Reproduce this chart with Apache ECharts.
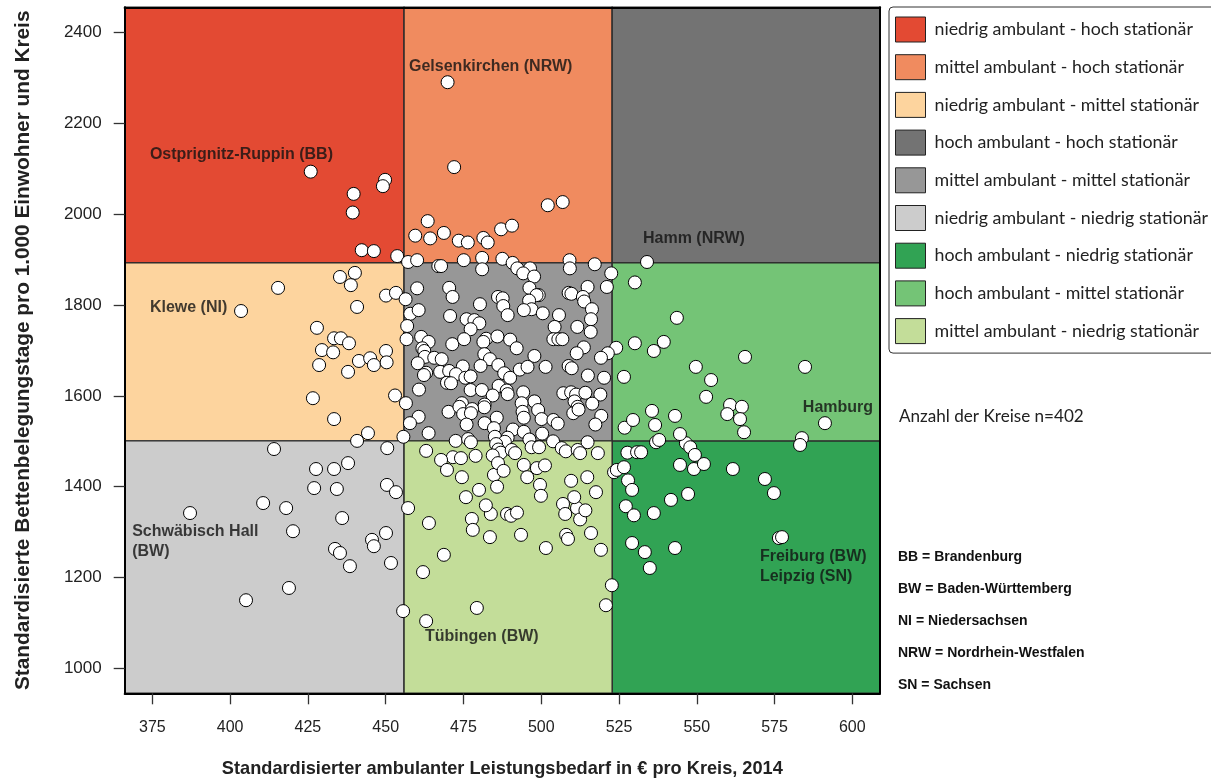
<!DOCTYPE html>
<html><head><meta charset="utf-8">
<script src="https://cdn.jsdelivr.net/npm/echarts@6/dist/echarts.min.js"></script>
<style>html,body{margin:0;padding:0;background:#fff}#c{width:1211px;height:780px}</style>
</head><body><div id="c"></div>
<script>
const xTicks = [375,400,425,450,475,500,525,550,575,600];
const yTicks = [1000,1200,1400,1600,1800,2000,2200,2400];
const xBreaks = [366.1, 455.9, 522.8, 608.9];
const yBreaks = [945, 1501, 1893, 2456];
const regionNames = [
  'niedrig ambulant - hoch stationär','mittel ambulant - hoch stationär','niedrig ambulant - mittel stationär',
  'hoch ambulant - hoch stationär','mittel ambulant - mittel stationär','niedrig ambulant - niedrig stationär',
  'hoch ambulant - niedrig stationär','hoch ambulant - mittel stationär','mittel ambulant - niedrig stationär'];
const regionCol = [0,1,0,2,1,0,2,2,1];
const regionRow = [2,2,1,2,1,0,0,1,0];
const regionColors = ['#E34A33','#F08B5F','#FDD49E','#737373','#979797','#CCCCCC','#31A354','#74C476','#C3DD99'];
const annotations = [
  [457.5,2325,'Gelsenkirchen (NRW)'],[374.2,2132,'Ostprignitz-Ruppin (BB)'],[532.7,1946,'Hamm (NRW)'],
  [374.2,1794,'Klewe (NI)'],[584.1,1574,'Hamburg'],[368.5,1279,'Schwäbisch Hall\n(BW)'],
  [570.3,1224,'Freiburg (BW)\nLeipzig (SN)'],[462.6,1071,'Tübingen (BW)']];
const kreise = [
[425.9,2094],[449.8,2076],[449.1,2062],[439.7,2045],[439.4,2004],[442.3,1921],[446.2,1919],[453.7,1908],
[469.9,2291],[472,2104],[502.1,2020],[506.9,2027],[463.5,1985],[459.5,1953],[464.3,1947],[468.7,1959],[473.5,1942],[476.4,1938],[481.4,1948],[482.8,1938],[487.1,1967],[490.6,1975],
[457.2,1895],[460.1,1899],[475.1,1899],[481,1904],[487.5,1902],[490.8,1893],[509.1,1899],[517.2,1890],[522.5,1870],
[466.9,1886],[467.8,1886],[481,1879],[492.3,1881],[496.4,1881],[494.2,1870],[497.7,1863],[509.2,1881],
[450.1,1821],[453.3,1827],[456.4,1813],[460.1,1837],[470.4,1838],[471.5,1818],[480.3,1802],[496.2,1838],[499.2,1822],[498.5,1822],[496.1,1810],[496.9,1791],[494.4,1789],[500.5,1782],[486.1,1818],[487.6,1815],[487.8,1798],[489.2,1778],[508.8,1827],[509.7,1825],[514.9,1840],[521.1,1840],[513.4,1818],[513.8,1808],[516.3,1791],[516,1769],[515.9,1741],
[457.9,1781],[460.6,1789],[470.7,1776],[476,1769],[478.5,1767],[480.1,1760],[477.3,1747],[505.7,1778],[504.3,1752],[511.6,1752],[456.9,1754],[456.7,1725],[461.4,1730],[463.8,1719],[471.4,1714],[475.2,1725],[482.3,1726],[481.4,1719],[485.9,1731],[490,1724],[492.1,1705],[503.9,1725],[505.5,1725],[506.8,1725],
[461.8,1705],[462.4,1699],[462.6,1686],[465.6,1684],[468,1681],[460.3,1672],[450.1,1699],[450.3,1674],[481.7,1692],[483.5,1681],[497.8,1688],[513.7,1707],[511.4,1694],[524.1,1706],[521.4,1694],[519.2,1684],[530.1,1716],
[474.8,1665],[480.5,1666],[486.2,1668],[488.1,1650],[490,1640],[493.1,1658],[495.6,1664],[501.4,1664],[508.8,1666],[509.8,1661],[463,1651],[462.3,1646],[467.5,1653],[470.4,1655],[472.6,1648],[475.6,1640],[477.3,1643],[469.7,1629],[471,1628],[460.7,1614],[477.3,1613],[480.9,1613],[486.3,1622],[488.9,1612],[489.2,1604],[494.2,1608],[515,1645],[520.2,1640],[526.6,1642],
[453,1601],[456.5,1584],[484.4,1601],[481.8,1581],[481.7,1575],[497.8,1588],[507.1,1606],[509.6,1608],[511.2,1603],[514.2,1607],[519,1603],[510.7,1588],[511.7,1576],[516.4,1583],[470.2,1565],[474.5,1584],[473.7,1576],[474.9,1560],[477.8,1571],[477.4,1562],[493.7,1584],[494,1565],[494.4,1552],[499,1569],[500.1,1549],[510.3,1562],[512,1570],
[460.6,1554],[457.8,1540],[476,1537],[481.8,1540],[485.7,1552],[484.8,1529],[503.9,1547],[505.3,1539],[519.3,1556],[517.4,1537],[526.8,1530],[463.8,1518],[455.7,1510],[490.9,1526],[494.4,1521],[500.3,1517],[485.1,1510],[489.2,1508],[488.3,1499],[514.9,1498],[472.5,1501],[476.5,1505],[477.4,1498],[496.2,1504],[496.9,1487],[499.3,1487],[503.8,1500],[506.6,1485],[507.9,1478],[511.7,1481],[512.5,1474],[518.2,1474],[450.5,1485],[463,1479],[485.5,1494],[486.2,1482],[487,1475],[484.4,1469],[490.5,1481],[491.6,1474],[478.9,1468],[471.6,1465],[474.2,1463],[527.7,1475],[530.8,1476],[530.1,1850],
[403.5,1787],[415.4,1838],[435.3,1862],[440.1,1871],[438.8,1844],[440.8,1796],[427.9,1750],[429.5,1701],[428.6,1668],[426.6,1595],[433.4,1727],[435.6,1727],[433.1,1696],[438.2,1716],[437.9,1653],[441.4,1677],[445,1683],[446.2,1668],[440.8,1501],[444.3,1518],[433.4,1549],
[387.1,1342],[414.1,1483],[405.1,1150],[410.6,1364],[418,1353],[420.2,1302],[418.9,1177],[427.6,1439],[427,1397],[433.4,1439],[437.9,1452],[434.3,1395],[436,1331],[433.7,1263],[435.3,1254],[438.5,1225],[445.6,1283],[446.2,1269],[450.1,1298],[450.4,1404],[453.3,1388],[451.7,1232],[457.2,1353],[455.6,1126],
[463,1104],[462,1212],[463.9,1320],[467.8,1459],[468.7,1250],[474.5,1421],[475.8,1377],[479.3,1133],[480,1393],[477.7,1329],[478,1305],[483.5,1289],[483.8,1340],[484.8,1426],[485.8,1400],[486.1,1452],[489,1340],[490.3,1336],[492.2,1343],[493.5,1294],[494.4,1448],[498.6,1441],[499.6,1404],[499.9,1380],[501.5,1265],[507,1362],[507.7,1340],[508,1294],[508.6,1285],[509.6,1413],[511.5,1353],[516,1298],[517.6,1388],[519.2,1261],[520.8,1139],[522.7,1183],[523.4,1432],[487.9,1435],[495.5,1421],[501.2,1447],[510.6,1377],[512.5,1328],[514.2,1348],[514.8,1421],[482.2,1359],[469.7,1437],
[524.3,1437],[526.6,1443],[527.2,1357],[527.9,1414],[529.2,1393],[529.2,1276],[529.8,1337],[532.1,1476],[533.3,1256],[534.9,1221],[536.2,1342],[536.9,1498],[543,1265],[541.7,1371],[544.6,1448],[546.5,1496],[547.2,1384],[547.9,1487],[549.1,1439],[549.4,1470],[552.3,1450],[561.6,1439],[571.9,1417],[574.8,1386],[576.4,1287],[577.4,1289],
[534,1895],[536.2,1699],[539.4,1719],[543.6,1772],[549.7,1664],[554.6,1635],[553,1598],[560.7,1580],[559.8,1560],[564.5,1576],[563.9,1549],[565.2,1520],[565.5,1686],[584.8,1664],[583.8,1507],[583.2,1492],[591.2,1540],[535.6,1567],[536.6,1536],[537.9,1503],[543,1556],[544.6,1516],[529.5,1547]
];

const chart = echarts.init(document.getElementById('c'), null, {renderer:'canvas'});
const FONT = "'Liberation Sans', Arial, sans-serif";
const LEGFONT = "Lato, 'Open Sans', sans-serif";
const axisLineStyle = {color:'#000', width:2};

const regionSeries = regionNames.map((name, i) => ({
  type:'custom', name, silent:true, z:1,
  itemStyle:{color: regionColors[i]},
  encode:{x:[0,1], y:[2,3]},
  data:[[xBreaks[regionCol[i]], xBreaks[regionCol[i]+1], yBreaks[regionRow[i]], yBreaks[regionRow[i]+1]]],
  renderItem:(params, api) => {
    const p0 = api.coord([api.value(0), api.value(3)]);
    const p1 = api.coord([api.value(1), api.value(2)]);
    return {type:'rect', shape:{x:p0[0], y:p0[1], width:p1[0]-p0[0], height:p1[1]-p0[1]},
      style:{fill: regionColors[i], stroke:'#2b2b2b', lineWidth:1.4}};
  }
}));

const option = {
  backgroundColor:'#fff',
  animation:false,
  grid:{left:124.7, right:331, top:7.3, bottom:86.7, containLabel:false, outerBoundsMode:'none'},
  legend:{
    data: regionNames, orient:'vertical', left:889, top:7, icon:'rect',
    itemWidth:30, itemHeight:25, itemGap:11.7,
    padding:[9.5,14,9,6],
    borderColor:'#333', borderWidth:1, borderRadius:4, backgroundColor:'#fff',
    itemStyle:{borderColor:'#222', borderWidth:1},
    textStyle:{fontFamily:LEGFONT, fontSize:17.8, color:'#222', padding:[0,0,0,4]},
    selectedMode:false
  },
  title:[
    {text:'Anzahl der Kreise n=402', left:899, top:408, padding:0,
     textStyle:{fontFamily:LEGFONT, fontSize:17.1, fontWeight:'normal', color:'#222'}},
    {text:'BB = Brandenburg\nBW = Baden-Württemberg\nNI = Niedersachsen\nNRW = Nordrhein-Westfalen\nSN = Sachsen',
     left:898, top:541, padding:0,
     textStyle:{fontFamily:FONT, fontSize:14, fontWeight:'bold', color:'#111', lineHeight:32}}
  ],
  xAxis:[
    {type:'value', position:'bottom', min:xBreaks[0], max:xBreaks[3], z:10,
     axisLine:{show:true, onZero:false, lineStyle:axisLineStyle},
     axisTick:{show:true, length:11, customValues:xTicks, lineStyle:{color:'#333', width:1.3}},
     axisLabel:{customValues:xTicks, margin:26, fontSize:16, fontFamily:FONT, color:'#222', formatter:v=>String(v)},
     splitLine:{show:false},
     name:'Standardisierter ambulanter Leistungsbedarf in € pro Kreis, 2014', nameLocation:'middle', nameGap:67,
     nameTextStyle:{fontSize:18.2, fontWeight:'bold', color:'#222', fontFamily:FONT}},
    {type:'value', position:'top', min:xBreaks[0], max:xBreaks[3], z:10,
     axisLine:{show:true, onZero:false, lineStyle:axisLineStyle},
     axisTick:{show:false}, axisLabel:{show:false}, splitLine:{show:false}}
  ],
  yAxis:[
    {type:'value', position:'left', min:yBreaks[0], max:yBreaks[3], z:10,
     axisLine:{show:true, onZero:false, lineStyle:axisLineStyle},
     axisTick:{show:true, length:11, customValues:yTicks, lineStyle:{color:'#333', width:1.3}},
     axisLabel:{customValues:yTicks, margin:23, fontSize:17, fontFamily:FONT, color:'#222', formatter:v=>String(v)},
     splitLine:{show:false},
     name:'Standardisierte Bettenbelegungstage pro 1.000 Einwohner und Kreis', nameLocation:'middle', nameGap:91, nameRotate:90,
     nameTextStyle:{fontSize:20.8, fontWeight:'bold', color:'#222', fontFamily:FONT}},
    {type:'value', position:'right', min:yBreaks[0], max:yBreaks[3], z:10,
     axisLine:{show:true, onZero:false, lineStyle:axisLineStyle},
     axisTick:{show:false}, axisLabel:{show:false}, splitLine:{show:false}}
  ],
  series:[
    ...regionSeries,
    {type:'scatter', name:'Kreise', data:kreise, symbol:'circle', symbolSize:13, z:3, silent:true,
     itemStyle:{color:'#fff', borderColor:'#000', borderWidth:1, opacity:1}},
    {type:'scatter', name:'Beschriftung', data:annotations, symbolSize:0, z:4, silent:true,
     label:{show:true, position:'right', distance:0, formatter:p=>p.data[2], align:'left',
       fontFamily:FONT, fontSize:16, fontWeight:'bold', color:'#111', lineHeight:20}}
  ]
};
chart.setOption(option);
</script></body></html>
